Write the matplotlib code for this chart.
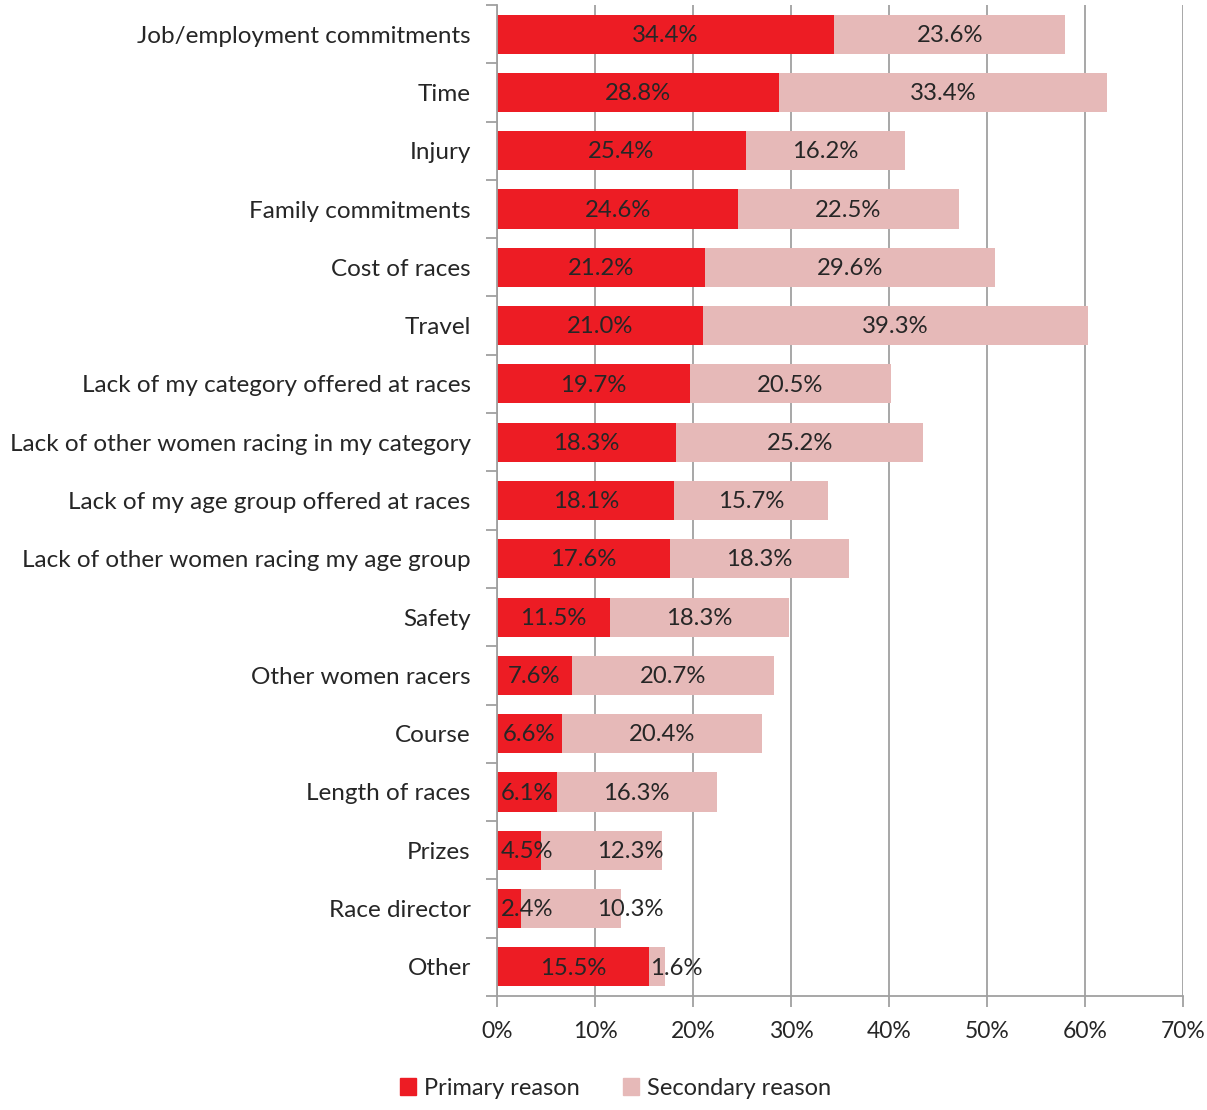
import numpy as np
import matplotlib.pyplot as plt
from matplotlib.patches import Patch

plt.rcParams['font.family'] = ['Lato', 'DejaVu Sans']

reasons = ['Job/employment commitments', 'Time', 'Injury', 'Family commitments',
           'Cost of races', 'Travel', 'Lack of my category offered at races',
           'Lack of other women racing in my category',
           'Lack of my age group offered at races',
           'Lack of other women racing my age group', 'Safety',
           'Other women racers', 'Course', 'Length of races', 'Prizes',
           'Race director', 'Other']
primary = [34.4, 28.8, 25.4, 24.6, 21.2, 21.0, 19.7, 18.3, 18.1, 17.6,
           11.5, 7.6, 6.6, 6.1, 4.5, 2.4, 15.5]
secondary = [23.6, 33.4, 16.2, 22.5, 29.6, 39.3, 20.5, 25.2, 15.7, 18.3,
             18.3, 20.7, 20.4, 16.3, 12.3, 10.3, 1.6]

red = '#ED1C24'
pink = '#E6B9B8'
grid_c = '#A0A0A0'
txt = '#262626'

fig = plt.figure(figsize=(12.07, 11.10), dpi=100)
ax = fig.add_axes([0.4118, 0.1027, 0.9801 - 0.4118, 0.9955 - 0.1027])

y = np.arange(len(reasons))
ax.barh(y, primary, height=0.67, color=red, zorder=2)
ax.barh(y, secondary, left=primary, height=0.67, color=pink, zorder=2)

# keep labels off the axis and apart from each other on short bars
for i in range(len(reasons)):
    xp = max(primary[i] / 2, 3.1)
    xs = max(primary[i] + secondary[i] / 2, xp + 10.5)
    ax.text(xp, y[i] + 0.02, f'{primary[i]:.1f}%', ha='center', va='center',
            fontsize=17.2, color=txt, zorder=3)
    ax.text(xs, y[i] + 0.02, f'{secondary[i]:.1f}%', ha='center', va='center',
            fontsize=17.2, color=txt, zorder=3)

ax.set_xlim(0, 70)
ax.set_ylim(len(reasons) - 0.5, -0.5)
ax.set_xticks(np.arange(0, 71, 10))
ax.set_xticklabels([f'{v}%' for v in range(0, 71, 10)])
ax.set_yticks(y)
ax.set_yticklabels(reasons)
ax.set_yticks(np.arange(-0.5, len(reasons)), minor=True)

ax.xaxis.grid(True, color=grid_c, linewidth=1.3, zorder=0)
for s in ['top', 'right']:
    ax.spines[s].set_visible(False)
for s in ['left', 'bottom']:
    ax.spines[s].set_color(grid_c)
    ax.spines[s].set_linewidth(1.3)

ax.tick_params(axis='y', which='major', length=0, pad=19, labelsize=17.5, labelcolor=txt)
ax.tick_params(axis='y', which='minor', length=8, color=grid_c, width=1.3)
ax.tick_params(axis='x', length=8, color=grid_c, width=1.3, pad=10,
               labelsize=16.5, labelcolor=txt)

handles = [Patch(color=red, label='Primary reason'),
           Patch(color=pink, label='Secondary reason')]
fig.legend(handles=handles, loc='lower center', bbox_to_anchor=(0.51, -0.009),
           ncol=2, frameon=False, fontsize=17, handlelength=0.7,
           handleheight=0.7, handletextpad=0.35, columnspacing=1.8,
           labelcolor=txt)

fig.savefig('out.png', dpi=100)
